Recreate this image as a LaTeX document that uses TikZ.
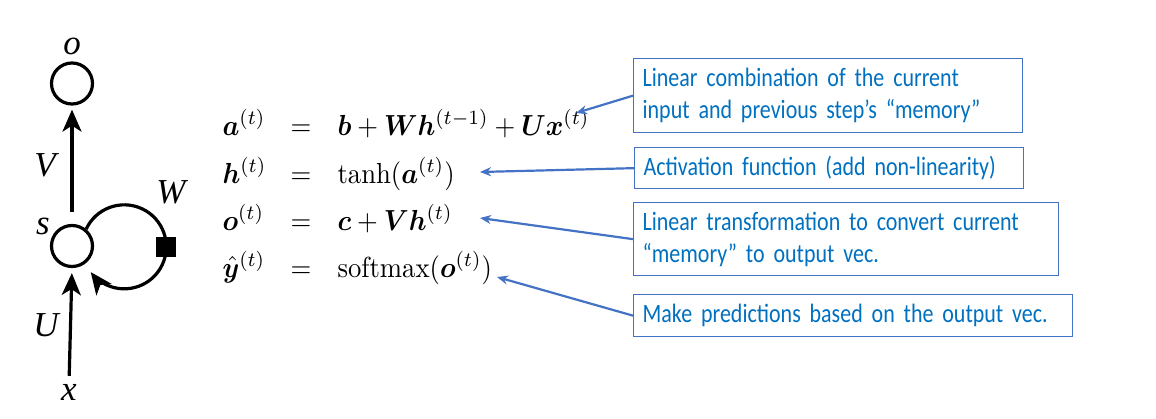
\documentclass[tikz,border=0pt]{standalone}
\usepackage{amsmath,bm}
\usepackage{fontspec}
\newfontfamily\calloutfont[FakeStretch=0.83]{Carlito}
\newfontfamily\diagfont{Liberation Serif}
\usetikzlibrary{arrows.meta,positioning}
\definecolor{calltext}{HTML}{0070C0}
\definecolor{callline}{HTML}{4472C4}
\begin{document}
\begin{tikzpicture}[x=1pt,y=-1pt,
    unit/.style={circle,draw,line width=3.2pt,minimum size=41pt,inner sep=0pt},
    gate/.style={fill=black,minimum size=20pt,inner sep=0pt},
    flow/.style={line width=3.2pt,-{Stealth[length=22pt,width=19pt,inset=6pt]}},
    sym/.style={font=\diagfont\itshape\fontsize{35}{40}\selectfont,inner sep=0pt},
    eqrow/.style={anchor=base west,inner sep=0pt,xscale=2.67,yscale=2.9,transform shape},
    callout/.style={draw=callline,line width=1.3pt,text=calltext,align=left,
      font=\calloutfont\fontsize{26.5}{32}\selectfont,anchor=north west,
      inner xsep=9pt,inner ysep=0pt},
    pointer/.style={draw=callline,line width=2.2pt,-{Stealth[length=11pt,width=9pt]}}]
    \useasboundingbox (0,0) rectangle (1156,418);

    % recurrent unit
    \node[unit] (o) at (72,83.5) {};
    \node[unit] (s) at (72,246) {};
    \node[sym] (ol) at (72,46) {o};
    \node[sym] (Vl) at (45,165) {V};
    \node[sym] (sl) at (43,226) {s};
    \node[sym] (Wl) at (171,192) {W};
    \node[sym] (Ul) at (46,325) {U};
    \node[sym] (xl) at (69,392) {x};

    \draw[flow,shorten <=12pt,shorten >=4pt] (s.north) -- (o.south);
    \draw[flow,shorten <=8pt,shorten >=5pt] (xl.north) -- (s.south);
    \draw[flow] (s.50) arc[start angle=155,end angle=-143,radius=42pt];
    \node[gate] (g) at (166,247) {};

    % equations
    \foreach \n/\y/\lhs/\rhs in {1/135/{\bm{a}^{(t)}}/{\bm{b}+\bm{W}\bm{h}^{(t-1)}+\bm{U}\bm{x}^{(t)}},
      2/183/{\bm{h}^{(t)}}/{\tanh(\bm{a}^{(t)})},
      3/230/{\bm{o}^{(t)}}/{\bm{c}+\bm{V}\bm{h}^{(t)}},
      4/277/{\hat{\bm{y}}^{(t)}}/{\operatorname{softmax}(\bm{o}^{(t)})}}
    {
      \node[eqrow] (lhs\n) at (222,\y) {$\lhs$};
      \node[eqrow] (eqs\n) at (290,\y) {$=$};
      \node[eqrow] (rhs\n) at (337,\y) {$\rhs$};
    }

    % callouts
    \foreach \n/\x/\y/\w/\h/\tx/\ty/\txt in {
      1/633/58/389/74/576/113/{Linear combination of the current\\input and previous step’s “memory”},
      2/634/147/389/41/480/172/{Activation function (add non-linearity)},
      3/633/202/425/73/480/218/{Linear transformation to convert current\\“memory” to output vec.},
      4/633/294/439/42/497/277/{Make predictions based on the output vec.}}
    {
      \pgfmathsetmacro\tw{\w-18}
      \node[callout,minimum width=\w,minimum height=\h,text width=\tw pt] (box\n) at (\x,\y) {\txt};
      \coordinate (tip\n) at (\tx,\ty);
      \draw[pointer] (box\n.west) -- (tip\n);
    }
  \end{tikzpicture}
\end{document}
